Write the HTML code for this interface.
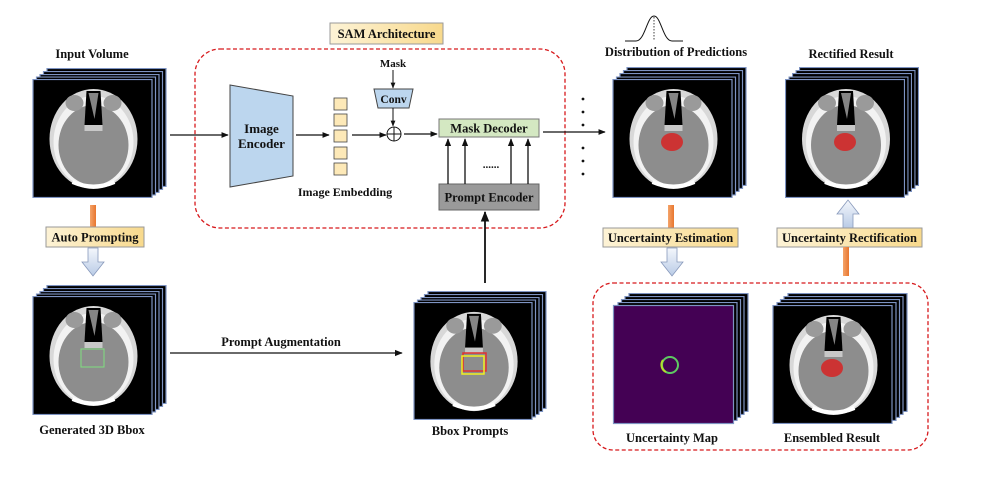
<!DOCTYPE html>
<html><head><meta charset="utf-8"><style>
html,body{margin:0;padding:0;background:#fff}
svg{display:block}
text{font-family:"Liberation Serif",serif;font-weight:bold;fill:#111}
</style></head><body>
<svg width="981" height="491" viewBox="0 0 981 491" xmlns="http://www.w3.org/2000/svg">
<defs>
<linearGradient id="lab" x1="0" y1="0" x2="1" y2="0"><stop offset="0" stop-color="#fdf3d6"/><stop offset="1" stop-color="#f8d98c"/></linearGradient>
<linearGradient id="org" x1="0" y1="0" x2="1" y2="0"><stop offset="0" stop-color="#f4a46a"/><stop offset="1" stop-color="#e8762f"/></linearGradient>
<linearGradient id="blu" x1="0" y1="0" x2="0" y2="1"><stop offset="0" stop-color="#f4f7fc"/><stop offset="1" stop-color="#b9cbe6"/></linearGradient>
<marker id="ah" viewBox="0 0 10 10" refX="9" refY="5" markerWidth="6" markerHeight="6" orient="auto"><path d="M0,1 L10,5 L0,9 z" fill="#111"/></marker>
<symbol id="back" viewBox="0 0 120 119"><rect x="0.5" y="0.5" width="119" height="118" fill="#000" stroke="#7d93c2" stroke-width="1.2"/></symbol>
<symbol id="brain" viewBox="0 0 120 119">
<rect x="0.5" y="0.5" width="119" height="118" fill="#000" stroke="#7d93c2" stroke-width="1.2"/>
<ellipse cx="61" cy="60" rx="44" ry="50" fill="#d8d8d8"/>
<ellipse cx="61" cy="63" rx="40" ry="46" fill="#f2f2f2"/>
<ellipse cx="61" cy="66" rx="35" ry="40" fill="#8d8d8d"/>
<ellipse cx="42" cy="24" rx="9" ry="8" fill="#9a9a9a"/>
<ellipse cx="80" cy="24" rx="9" ry="8" fill="#9a9a9a"/>
<path d="M54,12 L68,12 L70,46 L52,46 z" fill="#000"/>
<path d="M56,14 L66,14 L62,40 z" fill="#ddd" opacity=".6"/>
<rect x="52" y="46" width="18" height="6" fill="#c8c8c8"/>
<path d="M40,103 Q61,112 82,103" stroke="#fff" stroke-width="4" fill="none"/>
</symbol>
</defs>

<!-- stacks -->
<g id="s1">
<use href="#back" x="46" y="68" width="121" height="119"/>
<use href="#back" x="42.5" y="71" width="121" height="119"/>
<use href="#back" x="39" y="74" width="121" height="119"/>
<use href="#back" x="35.5" y="76.5" width="121" height="119"/>
<use href="#brain" x="32" y="79" width="121" height="119"/>
</g>
<g>
<use href="#back" x="46" y="285" width="121" height="119"/>
<use href="#back" x="42.5" y="288" width="121" height="119"/>
<use href="#back" x="39" y="291" width="121" height="119"/>
<use href="#back" x="35.5" y="293.5" width="121" height="119"/>
<use href="#brain" x="32" y="296" width="121" height="119"/>
<rect x="81" y="349" width="23" height="18" fill="none" stroke="#7fe07f" stroke-width="1"/>
</g>
<g>
<use href="#back" x="427" y="291" width="120" height="118"/>
<use href="#back" x="423.5" y="294" width="120" height="118"/>
<use href="#back" x="420" y="297" width="120" height="118"/>
<use href="#back" x="416.5" y="299.5" width="120" height="118"/>
<use href="#brain" x="413" y="302" width="120" height="118"/>
<rect x="463" y="353" width="23" height="18" fill="none" stroke="#e03030" stroke-width="1.5"/>
<rect x="462" y="356" width="22" height="18" fill="none" stroke="#f0f020" stroke-width="1.5"/>
</g>
<g>
<use href="#back" x="626" y="67" width="121" height="119"/>
<use href="#back" x="622.5" y="70" width="121" height="119"/>
<use href="#back" x="619" y="73" width="121" height="119"/>
<use href="#back" x="615.5" y="76.5" width="121" height="119"/>
<use href="#brain" x="612" y="79" width="121" height="119"/>
<ellipse cx="672" cy="142" rx="11" ry="9" fill="#cc3333"/>
</g>
<g>
<use href="#back" x="799" y="67" width="120" height="119"/>
<use href="#back" x="795.5" y="70" width="120" height="119"/>
<use href="#back" x="792" y="73" width="120" height="119"/>
<use href="#back" x="788.5" y="76.5" width="120" height="119"/>
<use href="#brain" x="785" y="79" width="120" height="119"/>
<ellipse cx="845" cy="142" rx="11" ry="9" fill="#cc3333"/>
</g>
<g>
<use href="#back" x="628" y="293" width="121" height="119"/>
<use href="#back" x="624" y="296" width="121" height="119"/>
<use href="#back" x="620.5" y="299" width="121" height="119"/>
<use href="#back" x="617" y="302" width="121" height="119"/>
<rect x="613.5" y="305.5" width="120" height="118" fill="#440154" stroke="#7d93c2" stroke-width="1.2"/>
<ellipse cx="670" cy="365" rx="8" ry="8" fill="none" stroke="#5ec962" stroke-width="2"/>
<path d="M663,360 A8,8 0 0 0 666,372" stroke="#b5de2b" stroke-width="2" fill="none"/>
</g>
<g>
<use href="#back" x="787" y="293" width="121" height="119"/>
<use href="#back" x="783" y="296" width="121" height="119"/>
<use href="#back" x="779.5" y="299" width="121" height="119"/>
<use href="#back" x="776" y="302" width="121" height="119"/>
<use href="#brain" x="772" y="305" width="121" height="119"/>
<ellipse cx="832" cy="368" rx="11" ry="9" fill="#cc3333"/>
</g>

<!-- dashed boxes -->
<rect x="195" y="49" width="370" height="179" rx="25" fill="none" stroke="#d7191c" stroke-width="1.3" stroke-dasharray="4,2.5"/>
<rect x="593" y="283" width="335" height="167" rx="20" fill="none" stroke="#d7191c" stroke-width="1.3" stroke-dasharray="4,2.5"/>

<!-- SAM label -->
<rect x="330" y="23" width="113" height="21" fill="url(#lab)" stroke="#999"/>
<text x="386.5" y="38" font-size="12.5" text-anchor="middle">SAM  Architecture</text>

<!-- encoder -->
<path d="M230,85 L293,96 L293,176 L230,187 z" fill="#bcd6ee" stroke="#444"/>
<text x="261.5" y="133" font-size="13" text-anchor="middle">Image</text>
<text x="261.5" y="148" font-size="13" text-anchor="middle">Encoder</text>
<g fill="#fde9b8" stroke="#444" stroke-width="0.8">
<rect x="334" y="98" width="13" height="12"/><rect x="334" y="114" width="13" height="12"/><rect x="334" y="130" width="13" height="12"/><rect x="334" y="147" width="13" height="12"/><rect x="334" y="163" width="13" height="12"/>
</g>
<text x="345" y="196" font-size="12" text-anchor="middle">Image Embedding</text>
<text x="393" y="67" font-size="11" text-anchor="middle">Mask</text>
<line x1="393" y1="70" x2="393" y2="88" stroke="#111" marker-end="url(#ah)"/>
<path d="M374,89 L413,89 L409,108 L378,108 z" fill="#bcd6ee" stroke="#444"/>
<text x="393.5" y="103" font-size="11.5" text-anchor="middle">Conv</text>
<line x1="393" y1="108" x2="393" y2="126" stroke="#111" marker-end="url(#ah)"/>
<circle cx="394" cy="134" r="7" fill="#fff" stroke="#111"/>
<line x1="387" y1="134" x2="401" y2="134" stroke="#111"/><line x1="394" y1="127" x2="394" y2="141" stroke="#111"/>
<line x1="170" y1="135" x2="228" y2="135" stroke="#111" stroke-width="1.2" marker-end="url(#ah)"/>
<line x1="296" y1="135" x2="329" y2="135" stroke="#111" stroke-width="1.2" marker-end="url(#ah)"/>
<line x1="352" y1="135" x2="386" y2="135" stroke="#111" stroke-width="1.2" marker-end="url(#ah)"/>
<line x1="404" y1="134" x2="437" y2="134" stroke="#111" stroke-width="1.2" marker-end="url(#ah)"/>

<rect x="439" y="119" width="100" height="18" fill="#d4e8c2" stroke="#777"/>
<text x="489" y="132.5" font-size="12.5" text-anchor="middle">Mask Decoder</text>
<rect x="439" y="184" width="100" height="26" fill="#9a9a9a" stroke="#666"/>
<text x="489" y="201.5" font-size="12.5" text-anchor="middle">Prompt Encoder</text>
<g stroke="#111" stroke-width="1.3">
<line x1="448" y1="184" x2="448" y2="139" marker-end="url(#ah)"/>
<line x1="465" y1="184" x2="465" y2="139" marker-end="url(#ah)"/>
<line x1="511" y1="184" x2="511" y2="139" marker-end="url(#ah)"/>
<line x1="528" y1="184" x2="528" y2="139" marker-end="url(#ah)"/>
<line x1="485" y1="283" x2="485" y2="212" stroke-width="1.8" marker-end="url(#ah)"/>
</g>
<text x="491" y="168" font-size="11" text-anchor="middle">......</text>
<line x1="543" y1="132" x2="605" y2="132" stroke="#111" stroke-width="1.2" marker-end="url(#ah)"/>
<g fill="#111"><circle cx="583" cy="99" r="1.4"/><circle cx="583" cy="112" r="1.4"/><circle cx="583" cy="125" r="1.4"/><circle cx="583" cy="148" r="1.4"/><circle cx="583" cy="161" r="1.4"/><circle cx="583" cy="174" r="1.4"/></g>

<!-- titles -->
<text x="92" y="58" font-size="12.5" text-anchor="middle">Input Volume</text>
<text x="92" y="434" font-size="12.5" text-anchor="middle">Generated 3D Bbox</text>
<text x="470" y="435" font-size="12.5" text-anchor="middle">Bbox Prompts</text>
<text x="676" y="56" font-size="12.5" text-anchor="middle">Distribution of Predictions</text>
<text x="851" y="58" font-size="12.5" text-anchor="middle">Rectified Result</text>
<text x="672" y="442" font-size="12.5" text-anchor="middle">Uncertainty Map</text>
<text x="832" y="442" font-size="12.5" text-anchor="middle">Ensembled Result</text>

<!-- bell -->
<path d="M625,41 L636,41 C645,41 647,16 654,16 C661,16 663,41 672,41 L683,41" fill="none" stroke="#111" stroke-width="1"/>
<line x1="654" y1="17" x2="654" y2="41" stroke="#111" stroke-width="0.8" stroke-dasharray="1.5,1.5"/>

<!-- auto prompting -->
<rect x="90" y="205" width="6" height="22" fill="url(#org)"/>
<rect x="46" y="227" width="98" height="20" fill="url(#lab)" stroke="#999"/>
<text x="95" y="241.5" font-size="12.5" text-anchor="middle">Auto Prompting</text>
<path d="M88,248 L98,248 L98,262 L104,262 L93,276 L82,262 L88,262 z" fill="url(#blu)" stroke="#8899bb" stroke-width="0.8"/>

<!-- prompt augmentation -->
<line x1="170" y1="353" x2="402" y2="353" stroke="#111" stroke-width="1.3" marker-end="url(#ah)"/>
<text x="281" y="346" font-size="12.5" text-anchor="middle">Prompt Augmentation</text>

<!-- uncertainty estimation -->
<rect x="668" y="205" width="6" height="23" fill="url(#org)"/>
<rect x="603" y="228" width="135" height="19" fill="url(#lab)" stroke="#999"/>
<text x="670.5" y="242" font-size="12.5" text-anchor="middle">Uncertainty Estimation</text>
<path d="M667,248 L677,248 L677,262 L683,262 L672,276 L661,262 L667,262 z" fill="url(#blu)" stroke="#8899bb" stroke-width="0.8"/>

<!-- rectification -->
<path d="M843,228 L853,228 L853,214 L859,214 L848,200 L837,214 L843,214 z" fill="url(#blu)" stroke="#8899bb" stroke-width="0.8"/>
<rect x="777" y="228" width="145" height="19" fill="url(#lab)" stroke="#999"/>
<text x="849.5" y="242" font-size="12.5" text-anchor="middle">Uncertainty Rectification</text>
<rect x="843" y="247" width="6" height="29" fill="url(#org)"/>
</svg>
</body></html>
